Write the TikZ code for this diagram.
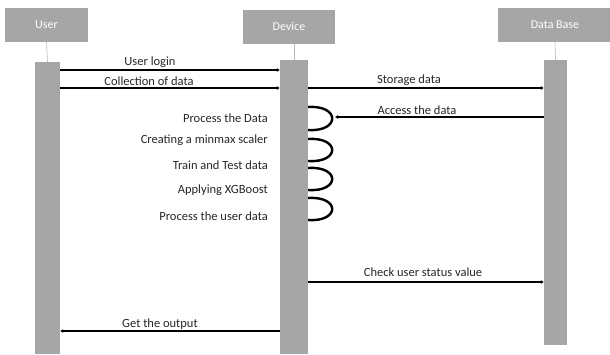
\documentclass[tikz,border=0pt]{standalone}
\usepackage{fontspec}
\setmainfont{Carlito}
\usetikzlibrary{arrows.meta,calc}
\definecolor{bargray}{HTML}{A6A6A6}
\definecolor{txtgray}{HTML}{262626}
\tikzset{
  head/.style={draw=none,fill=bargray,text=white,minimum height=34pt,inner sep=0pt,font=\fontsize{12}{13}\selectfont},
  life/.style={draw=none,fill=bargray,inner sep=0pt,anchor=north},
  lline/.style={draw=bargray!80,line width=0.6pt},
  msg/.style={draw=black,line width=2.4pt,-{Latex[length=3pt,width=4pt]}},
  lbl/.style={font=\fontsize{12.5}{14}\selectfont,text=txtgray,inner sep=0pt},
  loopc/.style={draw=black,line width=2.4pt}
}
\begin{document}
\begin{tikzpicture}[x=1pt,y=-1pt]
\useasboundingbox (0,0) rectangle (610,354);
% headers
\node[head,minimum width=83pt] (uhead) at (46.5,25) {User};
\node[head,minimum width=92pt] (dhead) at (289,26.5) {Device};
\node[head,minimum width=114pt] (bhead) at (555,25) {Data Base};
% bars
\node[life,minimum width=25pt,minimum height=292pt] (ubar) at (47.5,62) {};
\node[life,minimum width=28pt,minimum height=294pt] (dbar) at (294,60) {};
\node[life,minimum width=23pt,minimum height=285pt] (bbar) at (555.5,60) {};
% lifelines
\draw[lline] (uhead.south) -- (ubar.north);
\draw[lline] (dhead.south -| dbar.north) -- (dbar.north);
\draw[lline] (bhead.south) -- (bbar.north);
% messages
\draw[msg] (ubar.east |- 0,70) -- (dbar.west |- 0,70);
\node[lbl] (l1) at (150,62) {User login};
\draw[msg] (ubar.east |- 0,88) -- (dbar.west |- 0,88);
\node[lbl] (l2) at (149,81) {Collection of data};
\draw[msg] (dbar.east |- 0,88) -- (bbar.west |- 0,88);
\node[lbl] (l3) at (409,80) {Storage data};
% self loops
\coordinate (a1) at (dbar.east |- 0,107);
\coordinate (a2) at (dbar.east |- 0,130);
\coordinate (b1) at (dbar.east |- 0,139);
\coordinate (b2) at (dbar.east |- 0,161);
\coordinate (c1) at (dbar.east |- 0,168);
\coordinate (c2) at (dbar.east |- 0,190);
\coordinate (d1) at (dbar.east |- 0,198);
\coordinate (d2) at (dbar.east |- 0,220);
\draw[loopc] (a1) .. controls ($(a1)+(32,-2)$) and ($(a2)+(32,2)$) .. (a2);
\draw[loopc] (b1) .. controls ($(b1)+(32,-2)$) and ($(b2)+(32,2)$) .. (b2);
\draw[loopc] (c1) .. controls ($(c1)+(32,-2)$) and ($(c2)+(32,2)$) .. (c2);
\draw[loopc] (d1) .. controls ($(d1)+(32,-2)$) and ($(d2)+(32,2)$) .. (d2);
\coordinate (acc) at (335,117);
\draw[msg] (bbar.west |- acc) -- (acc);
\node[lbl] (l4) at (417,110) {Access the data};
% loop labels
\node[lbl,anchor=east] (p1) at (268,118) {Process the Data};
\node[lbl,anchor=east] (p2) at (268,140) {Creating a minmax scaler};
\node[lbl,anchor=east] (p3) at (268,165) {Train and Test data};
\node[lbl,anchor=east] (p4) at (268,190) {Applying XGBoost};
\node[lbl,anchor=east] (p5) at (268,216) {Process the user data};
% later messages
\draw[msg] (dbar.east |- 0,282) -- (bbar.west |- 0,282);
\node[lbl] (l5) at (423,272) {Check user status value};
\draw[msg] (dbar.west |- 0,331) -- (ubar.east |- 0,331);
\node[lbl] (l6) at (160,324) {Get the output};
\end{tikzpicture}
\end{document}
